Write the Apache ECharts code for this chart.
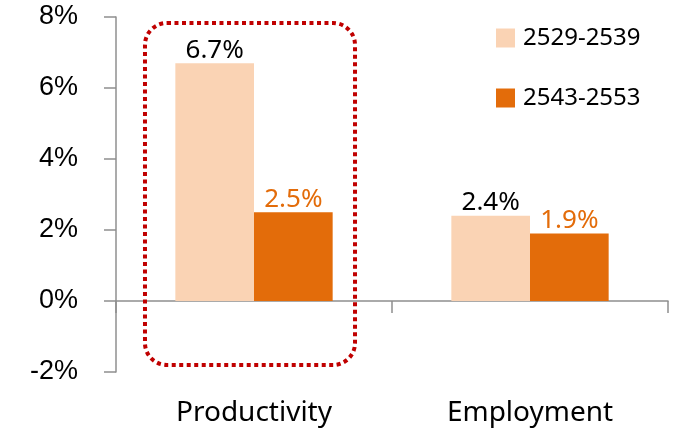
<!DOCTYPE html>
<html>
<head>
<meta charset="utf-8">
<script src="https://cdn.jsdelivr.net/npm/echarts@6/dist/echarts.min.js"></script>
<style>html,body{margin:0;padding:0;background:#fff}#c{width:675px;height:430px}</style>
</head>
<body>
<div id="c"></div>
<script>
const categories = ['Productivity', 'Employment'];
const seriesNames = ['2529-2539', '2543-2553'];
const values1 = [6.7, 2.4];
const values2 = [2.5, 1.9];
const yTicks = { min: -2, max: 8, interval: 2 };

const chart = echarts.init(document.getElementById('c'));
const axisColor = '#8f8f8f';
chart.setOption({
  animation: false,
  grid: { left: 116, right: 7, top: 17, bottom: 58, containLabel: false, outerBoundsMode: 'none' },
  legend: {
    orient: 'vertical', left: 496, top: 26, padding: 0,
    itemWidth: 19, itemHeight: 19, itemGap: 36,
    icon: 'rect',
    textStyle: { fontFamily: 'Noto Sans', fontSize: 24, color: '#000', padding: [0, 0, 0, 3] },
    data: seriesNames
  },
  xAxis: [
    {
      type: 'category', data: categories,
      axisLine: { show: true, onZero: true, lineStyle: { color: axisColor, width: 1.5 } },
      axisTick: { show: true, alignWithLabel: false, interval: 0, length: 12, lineStyle: { color: axisColor, width: 1.5 } },
      axisLabel: { show: false }
    },
    {
      type: 'category', data: categories, position: 'bottom',
      axisLine: { show: false, onZero: false },
      axisTick: { show: false },
      axisLabel: { show: true, interval: 0, margin: 27, fontFamily: 'Noto Sans', fontSize: 28, color: '#000' }
    }
  ],
  yAxis: {
    type: 'value', min: yTicks.min, max: yTicks.max, interval: yTicks.interval,
    splitLine: { show: false },
    axisLine: { show: true, lineStyle: { color: axisColor, width: 1.5 } },
    axisTick: { show: true, length: 12, lineStyle: { color: axisColor, width: 1.5 } },
    axisLabel: { margin: 38, formatter: '{value}%', fontFamily: 'Liberation Sans', fontSize: 27, color: '#000', verticalAlign: 'middle', padding: [12, 0, 0, 0] }
  },
  series: [
    {
      name: seriesNames[0], type: 'bar', data: values1, xAxisIndex: 0,
      barGap: '0%', barCategoryGap: '43%',
      itemStyle: { color: '#FAD3B4' },
      label: { show: true, position: 'top', distance: 0, formatter: p => p.value.toFixed(1) + '%', fontFamily: 'Noto Sans', fontSize: 26, color: '#000' }
    },
    {
      name: seriesNames[1], type: 'bar', data: values2, xAxisIndex: 0,
      barGap: '0%', barCategoryGap: '43%',
      itemStyle: { color: '#E36C0A' },
      label: { show: true, position: 'top', distance: 0, formatter: p => p.value.toFixed(1) + '%', fontFamily: 'Noto Sans', fontSize: 26, color: '#E36C0A' }
    }
  ]
});

// Dotted highlight box around the Productivity group, positioned from axis scales
const c0 = chart.convertToPixel({ xAxisIndex: 0 }, categories[0]);
const c1 = chart.convertToPixel({ xAxisIndex: 0 }, categories[1]);
const band = c1 - c0;
const yTop = chart.convertToPixel({ yAxisIndex: 0 }, yTicks.max) + 6;
const yBot = chart.convertToPixel({ yAxisIndex: 0 }, yTicks.min) - 7;
const xL = c0 - 0.395 * band;
const xR = c0 + 0.366 * band;
chart.setOption({
  graphic: [{
    type: 'rect', silent: true, z: 100,
    shape: { x: xL, y: yTop, width: xR - xL, height: yBot - yTop, r: 22 },
    style: { fill: 'none', stroke: '#C00000', lineWidth: 4, lineDash: [4, 3.5], lineCap: 'butt' }
  }]
});
</script>
</body>
</html>
